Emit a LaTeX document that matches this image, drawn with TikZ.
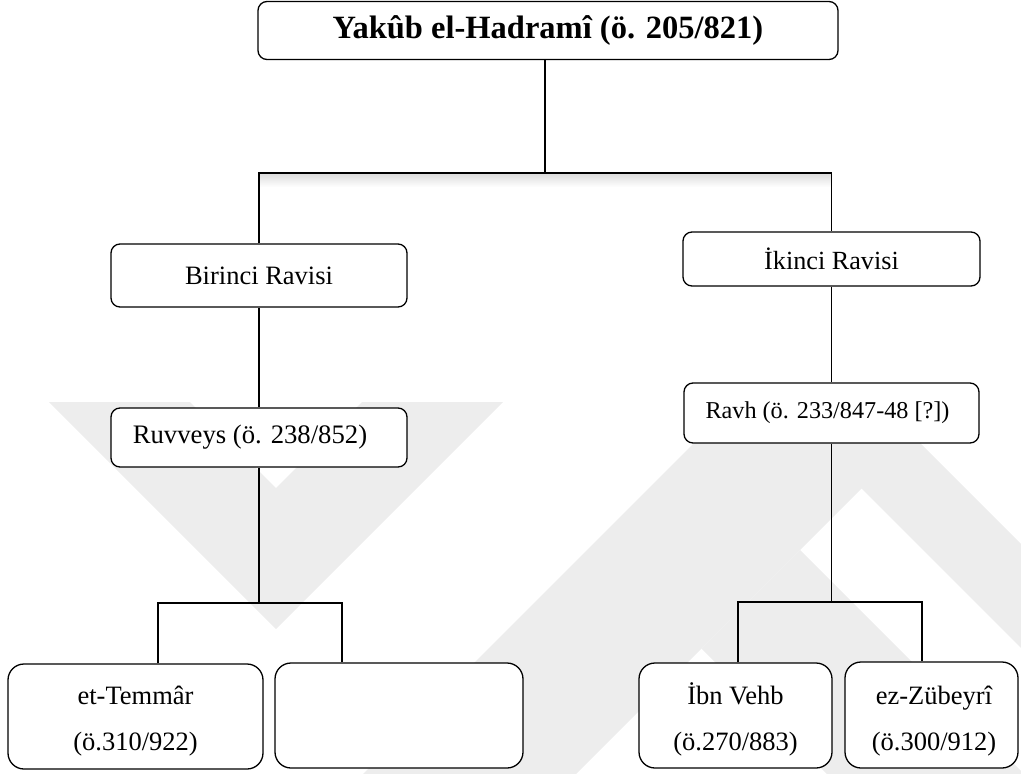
\documentclass[tikz,border=0pt]{standalone}
\usepackage{fontspec}
\setmainfont{Liberation Serif}
\begin{document}
\begin{tikzpicture}[x=1pt,y=-1pt,
  rbox/.style={draw=black, fill=white, line width=1.3pt, rounded corners=9pt, inner sep=0pt, align=center},
  bigbox/.style={rbox, rounded corners=16pt},
  lbl/.style={inner sep=0pt, anchor=base, font=\fontsize{26.5}{30}\selectfont},
  link/.style={draw=black, line width=1.3pt},
  emblem/.style={fill=black!7, draw=none}]
\useasboundingbox (0,0) rectangle (1021,774);

% faint emblem in the background
\fill[emblem] (49,402) -- (276,629) -- (503,402) -- (362,402) -- (276,488) -- (190,402) -- cycle;
\fill[emblem] (735,402) -- (948,402) -- (576,774) -- (363,774) -- cycle;
\fill[emblem] (775,402) -- (879,402) -- (1021,544) -- (1021,648) -- cycle;
\fill[emblem] (701.5,648.5) -- (800,550) -- (1021,771) -- (1021,774) -- (827,774) -- cycle;

% soft shadow under the main branch line
\shade[top color=black!13, bottom color=white] (259,174) rectangle (832,187);

% boxes
\node[rbox, minimum width=580pt, minimum height=58pt, font=\fontsize{32.5}{36}\selectfont\bfseries]
  (top) at (548,30.5) {Yakûb el-Hadramî (ö. 205/821)};
\node[rbox, minimum width=296pt, minimum height=63pt, font=\fontsize{26.5}{30}\selectfont]
  (b1) at (259,275.5) {Birinci Ravisi};
\node[rbox, minimum width=296pt, minimum height=59pt, font=\fontsize{26.7}{30}\selectfont]
  (ruv) at (259,437.5) {\hspace*{-18pt}Ruvveys (ö. 238/852)};
\node[rbox, minimum width=297pt, minimum height=54pt, font=\fontsize{26.2}{30}\selectfont]
  (i2) at (831.5,259) {İkinci Ravisi};
\node[rbox, minimum width=295pt, minimum height=60pt, font=\fontsize{24.2}{28}\selectfont]
  (ravh) at (831.5,413) {\hspace*{-8pt}Ravh (ö. 233/847-48 [?])};
\node[bigbox, minimum width=255pt, minimum height=105pt] (tem) at (135.5,716.5) {};
\node[bigbox, minimum width=248pt, minimum height=105pt] (emp) at (399,715.5) {};
\node[bigbox, minimum width=193pt, minimum height=105pt] (ibn) at (735.5,715.5) {};
\node[bigbox, minimum width=173pt, minimum height=106pt] (zub) at (931.5,715) {};

% two-line names in the bottom boxes
\node[lbl] (temA) at (135.5,704) {et-Temmâr};
\node[lbl] (temB) at (135.5,750) {(ö.310/922)};
\node[lbl] (ibnA) at (735.5,704) {İbn Vehb};
\node[lbl] (ibnB) at (735.5,750) {(ö.270/883)};
\node[lbl] (zubA) at (934,704) {ez-Zübeyrî};
\node[lbl] (zubB) at (934,750) {(ö.300/912)};

% junctions and drop points
\coordinate (j1) at (545,173);
\coordinate (j2) at (259,603);
\coordinate (j3) at (831.5,602);
\coordinate (dl1) at (158,0);
\coordinate (dl2) at (342,0);
\coordinate (dr1) at (738,0);
\coordinate (dr2) at (922,0);

% connectors
\draw[link] (top.south -| j1) -- (j1);
\draw[link] (b1.north) |- (j1) -| (i2.north);
\draw[link] (b1.south) -- (ruv.north);
\draw[link] (i2.south) -- (ravh.north);
\draw[link] (ruv.south) -- (j2);
\draw[link] (tem.north -| dl1) |- (j2) -| (emp.north -| dl2);
\draw[link] (ravh.south) -- (j3);
\draw[link] (ibn.north -| dr1) |- (j3) -| (zub.north -| dr2);
\end{tikzpicture}
\end{document}
